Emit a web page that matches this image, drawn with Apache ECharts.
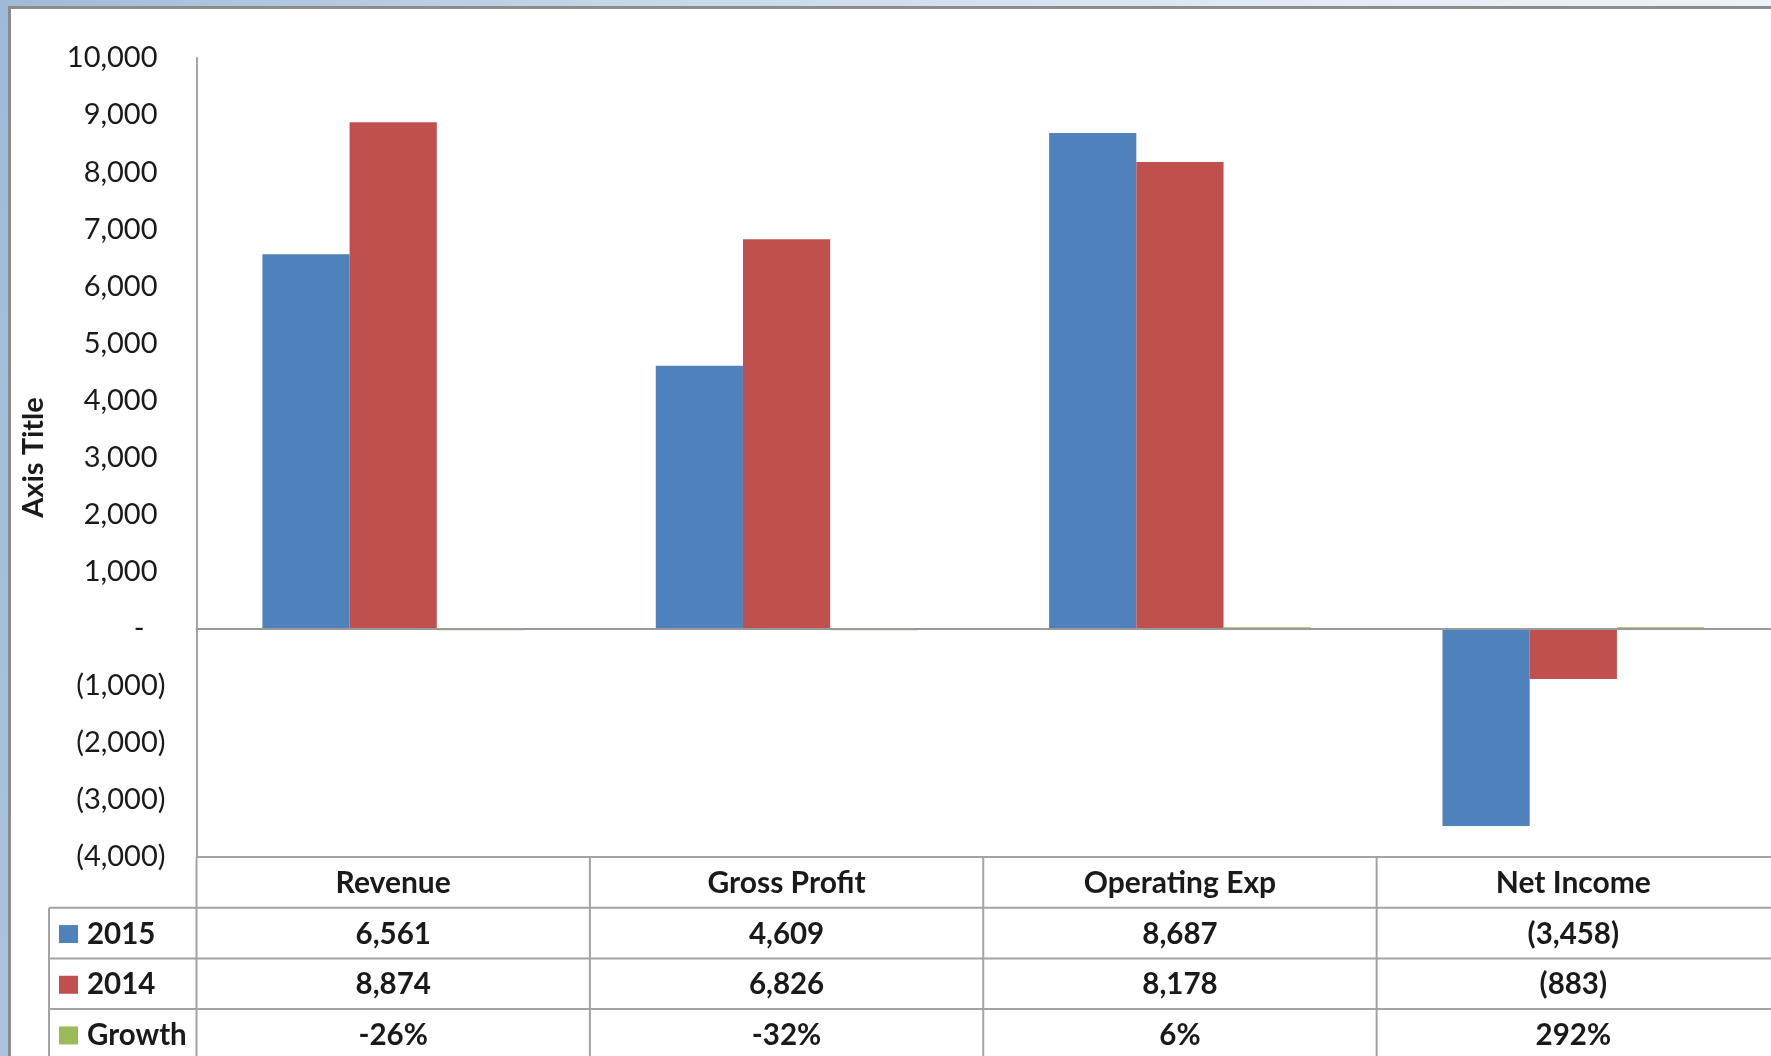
<!DOCTYPE html>
<html>
<head>
<meta charset="utf-8">
<title>Revenue, Gross Profit, Operating Exp and Net Income — 2015 vs 2014</title>
<script src="https://cdn.jsdelivr.net/npm/echarts@6/dist/echarts.min.js"></script>
<style>
  html, body { margin: 0; padding: 0; width: 1771px; height: 1056px; overflow: hidden; }
  body { background: linear-gradient(100deg, #9fbad8 0%, #c9d9ea 35%, #e4ecf5 70%, #f1f5fa 100%); position: relative; }
  #frame {
    position: absolute; left: 8px; top: 6px; right: 0; bottom: 0;
    background: #fff; border-left: 3px solid #8c8c8c; border-top: 3px solid #8c8c8c;
  }
  #chart { position: absolute; left: 0; top: 0; width: 1771px; height: 1056px; }
</style>
</head>
<body>
<div id="frame"></div>
<div id="chart"></div>
<script>
// Categories and the three plotted series
const categories = ['Revenue', 'Gross Profit', 'Operating Exp', 'Net Income'];
const seriesNames = ['2015', '2014', 'Growth'];
const values2015 = [6561, 4609, 8687, -3458];
const values2014 = [8874, 6826, 8178, -883];
const growth = [-0.26, -0.32, 0.06, 2.92];

// Value axis range and step
const yMin = -4000;
const yMax = 10000;
const yStep = 1000;

const colors = ['#4F81BD', '#C0504D', '#9BBB59'];
const FONT = 'Lato, "Open Sans", sans-serif';
const TEXT = '#1a1a1a';
const LINE = '#a3a3a3';

// Accounting-style number: 6,561 / (3,458) / -
function acct(v) {
  if (v === 0) return '-';
  const s = Math.abs(v).toLocaleString('en-US');
  return v < 0 ? '(' + s + ')' : s;
}
function pct(v) { return Math.round(v * 100) + '%'; }

const chart = echarts.init(document.getElementById('chart'), null, { renderer: 'canvas' });

const option = {
  backgroundColor: 'transparent',
  animation: false,
  color: colors,
  grid: { left: 196.5, right: 1, top: 58, bottom: 199, containLabel: false },
  xAxis: {
    type: 'category',
    data: categories,
    z: 5,
    axisLine: { onZero: true, lineStyle: { color: '#9a9a9a', width: 2 } },
    axisTick: { show: false },
    axisLabel: { show: false },
    splitLine: { show: false }
  },
  yAxis: {
    type: 'value',
    min: yMin,
    max: yMax,
    interval: yStep,
    name: 'Axis Title',
    nameLocation: 'middle',
    nameRotate: 90,
    nameGap: 148,
    nameTextStyle: { fontFamily: FONT, fontWeight: 'bold', fontSize: 29, color: TEXT },
    axisLine: { show: true, lineStyle: { color: '#a3a3a3', width: 2 } },
    axisTick: { show: false },
    splitLine: { show: false },
    axisLabel: {
      margin: 31,
      formatter: function (v) {
        if (v === 0) return '{z|-}';
        if (v < 0) return '{n|' + acct(v) + '}';
        return '{n|' + acct(v) + '}{p| }';
      },
      rich: {
        n: { fontFamily: FONT, fontSize: 29, color: TEXT },
        p: { fontFamily: FONT, fontSize: 29, width: 8 },
        z: { fontFamily: FONT, fontSize: 29, color: TEXT, padding: [0, 21, 0, 0] }
      }
    }
  },
  series: [
    { name: seriesNames[0], type: 'bar', data: values2015, barGap: '0%', barCategoryGap: '33.5%' },
    { name: seriesNames[1], type: 'bar', data: values2014, barGap: '0%', barCategoryGap: '33.5%' },
    { name: seriesNames[2], type: 'bar', data: growth, barGap: '0%', barCategoryGap: '33.5%', barMinHeight: 1.5 }
  ]
};

chart.setOption(option);

// Data table under the plot, laid out on the category bands of the x axis
function buildTable() {
  const xc = categories.map((c, i) => chart.convertToPixel({ xAxisIndex: 0 }, i));
  const band = xc[1] - xc[0];
  const edges = xc.map(x => x - band / 2);
  const rightEdge = xc[xc.length - 1] + band / 2;
  const top = chart.convertToPixel({ yAxisIndex: 0 }, yMin);
  const rowH = 50.7;
  const legendLeft = 49;
  const bottom = 1060;
  const g = [];

  const hline = (x1, x2, y) => g.push({ type: 'line', silent: true, z: 10,
    shape: { x1: x1, y1: y, x2: x2, y2: y }, style: { stroke: LINE, lineWidth: 2 } });
  const vline = (x, y1, y2) => g.push({ type: 'line', silent: true, z: 10,
    shape: { x1: x, y1: y1, x2: x, y2: y2 }, style: { stroke: LINE, lineWidth: 2 } });
  const text = (s, x, y, opts) => g.push({ type: 'text', silent: true, z: 11,
    style: Object.assign({ text: s, x: x, y: y, align: 'center', verticalAlign: 'middle',
      font: 'bold 29.5px ' + FONT, fill: TEXT }, opts || {}) });

  // header row top and row separators
  hline(edges[0], rightEdge + 2, top);
  for (let r = 1; r <= 3; r++) hline(legendLeft, rightEdge + 2, top + rowH * r);
  // column separators
  edges.forEach(x => vline(x, top, bottom));
  vline(legendLeft, top + rowH, bottom);

  // category header
  categories.forEach((c, i) => text(c, xc[i], top + rowH / 2 + 1, { font: 'bold 30px ' + FONT }));

  // series rows
  const rows = [values2015.map(acct), values2014.map(acct), growth.map(pct)];
  rows.forEach((vals, r) => {
    const cy = top + rowH * (r + 1.5) + 1;
    g.push({ type: 'rect', silent: true, z: 11,
      shape: { x: 59, y: cy - 9, width: 19, height: 18 }, style: { fill: colors[r] } });
    text(seriesNames[r], 87, cy, { align: 'left' });
    vals.forEach((v, i) => text(v, xc[i], cy));
  });

  chart.setOption({ graphic: g });
}
buildTable();
</script>
</body>
</html>
